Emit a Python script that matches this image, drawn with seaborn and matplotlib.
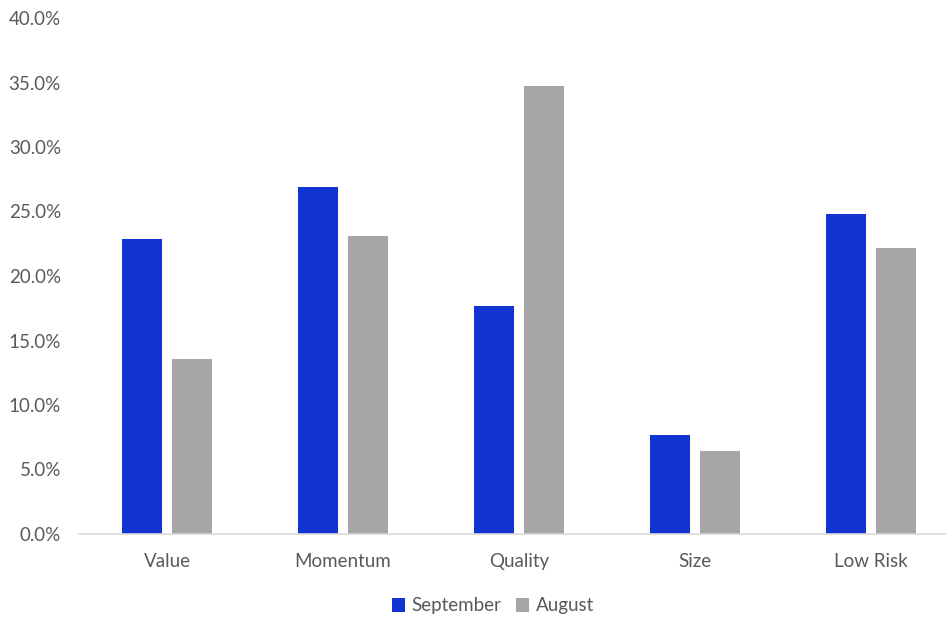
import matplotlib
matplotlib.use("Agg")
import matplotlib.pyplot as plt
import seaborn as sns
import pandas as pd
from matplotlib.ticker import FuncFormatter, MultipleLocator
from matplotlib.patches import Patch

categories = ["Value", "Momentum", "Quality", "Size", "Low Risk"]
september = [22.9, 26.9, 17.7, 7.7, 24.8]
august = [13.6, 23.1, 34.7, 6.4, 22.2]
series_names = ["September", "August"]
colors = ["#1033D1", "#A6A6A6"]

df = pd.DataFrame({
    "Factor": categories * 2,
    "Value": september + august,
    "Month": [series_names[0]] * len(categories) + [series_names[1]] * len(categories),
})

sns.set_style("white")
plt.rcParams['font.family'] = ['Lato', 'DejaVu Sans']

fig = plt.figure(figsize=(9.46, 6.19), dpi=100)
ax = fig.add_axes([79 / 946, 85 / 619, 867 / 946, 516 / 619])

sns.barplot(data=df, x="Factor", y="Value", hue="Month", order=categories,
            hue_order=series_names, palette=colors, width=0.568, gap=0.2,
            saturation=1, ax=ax, legend=False, edgecolor="none")

ax.set_xlim(-0.5, -0.5 + 867 / 176)
ax.set_ylim(0, 40)
ax.yaxis.set_major_locator(MultipleLocator(5))
ax.yaxis.set_major_formatter(FuncFormatter(lambda v, p: f"{v:.1f}%"))
ax.set_xlabel("")
ax.set_ylabel("")

for s in ["top", "right", "left"]:
    ax.spines[s].set_visible(False)
ax.spines["bottom"].set_color("#D9D9D9")
ax.spines["bottom"].set_linewidth(1.2)

ax.tick_params(axis="y", length=0, pad=13, labelsize=13.5, labelcolor="#595959")
ax.tick_params(axis="x", length=0, pad=14, labelsize=13.5, labelcolor="#595959")

handles = [Patch(facecolor=c, edgecolor="none") for c in colors]
fig.legend(handles, series_names, loc="center", bbox_to_anchor=(493 / 946, 1 - 606 / 619),
           ncol=2, frameon=False, fontsize=13.5, labelcolor="#595959",
           handlelength=0.7, handleheight=0.7, handletextpad=0.35, columnspacing=0.8)

fig.savefig("out.png", dpi=100)
